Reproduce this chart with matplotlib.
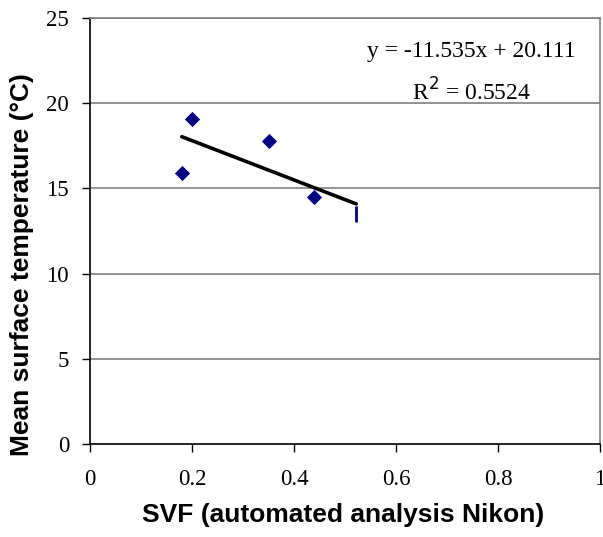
import matplotlib
matplotlib.use("Agg")
import matplotlib.pyplot as plt
import numpy as np

# Data
svf = [0.18, 0.20, 0.35, 0.44]
temp = [15.9, 19.1, 17.8, 14.5]
svf_extra = [0.522]
temp_extra = [13.5]
slope, intercept, r2 = -11.535, 20.111, 0.5524
x_ticks = [0, 0.2, 0.4, 0.6, 0.8, 1]
x_labels = ["0", "0.2", "0.4", "0.6", "0.8", "1"]
y_ticks = [0, 5, 10, 15, 20, 25]

serif = "Liberation Serif"
sans = "Liberation Sans"

W, H = 603, 537
fig = plt.figure(figsize=(W / 100, H / 100), dpi=100)
ax = fig.add_axes([90 / W, 1 - 444 / H, 510 / W, (444 - 18) / H])

ax.set_xlim(0, 1)
ax.set_ylim(0, 25)

for yv in y_ticks[1:]:
    ax.axhline(yv, color="#808080", lw=1.2, zorder=1)

ax.scatter(svf, temp, marker="D", s=60, color="#000080", zorder=3, linewidths=0)
ax.scatter(svf_extra, temp_extra, marker="|", s=130, color="#000080", zorder=3, linewidths=2)

all_x = np.array(svf + svf_extra)
xl = np.array([all_x.min(), all_x.max()])
ax.plot(xl, slope * xl + intercept, color="black", lw=2.6, zorder=4, solid_capstyle="round")

ax.text(471 / W, 1 - 51 / H, f"y = {slope}x + {intercept}", transform=fig.transFigure,
        ha="center", va="center", fontsize=17, family=serif)
ax.text(472 / W, 1 - 92 / H, f"R$^2$ = {r2}", transform=fig.transFigure,
        ha="center", va="center", fontsize=17, family=serif)

ax.set_xticks(x_ticks)
ax.set_xticklabels(x_labels, family=serif, fontsize=16.5)
ax.set_yticks(y_ticks)
ax.set_yticklabels([str(v) for v in y_ticks], family=serif, fontsize=16.5)
ax.tick_params(axis="x", direction="out", length=6, width=1, color="black", pad=12)
ax.tick_params(axis="y", direction="out", length=6, width=1, color="black", pad=9)

for side in ["left", "bottom"]:
    ax.spines[side].set_color("black")
    ax.spines[side].set_linewidth(1.2)
for side in ["top", "right"]:
    ax.spines[side].set_color("#808080")
    ax.spines[side].set_linewidth(1.2)

fig.text(343 / W, 1 - 515 / H, "SVF (automated analysis Nikon)", family=sans,
         fontweight="bold", fontsize=19, ha="center", va="center")
fig.text(22 / W, 1 - 265 / H, "Mean surface temperature (°C)", family=sans,
         fontweight="bold", fontsize=19, ha="center", va="center", rotation=90)

fig.savefig("out.png", dpi=100)
